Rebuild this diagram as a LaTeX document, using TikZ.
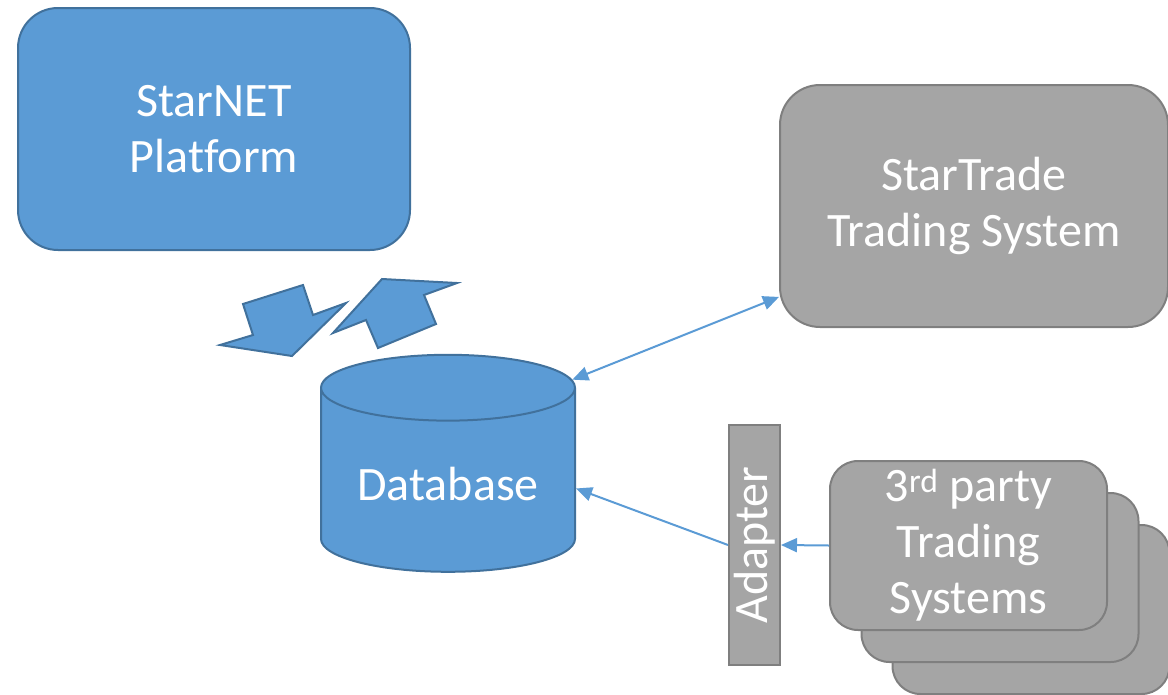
\documentclass[tikz,border=0pt]{standalone}
\usepackage{fontspec}
\setmainfont{Carlito}[Ligatures=CommonOff]
\usetikzlibrary{positioning}
\usetikzlibrary{shapes.geometric}
\usetikzlibrary{arrows.meta}

\definecolor{boxblue}{HTML}{5B9BD5}
\definecolor{blueline}{HTML}{41719C}
\definecolor{boxgray}{HTML}{A5A5A5}
\definecolor{grayline}{HTML}{7F7F7F}

\begin{document}
\begin{tikzpicture}[x=1pt, y=-1pt,
    every node/.style={text=white, font=\fontsize{48}{56}\selectfont, align=center},
    bluebox/.style={draw=blueline, fill=boxblue, line width=2pt, rounded corners=40pt, minimum width=392pt, minimum height=242pt},
    graybox/.style={draw=grayline, fill=boxgray, line width=2pt, rounded corners=40pt, minimum width=388pt, minimum height=242pt},
    stackbox/.style={draw=grayline, fill=boxgray, line width=2pt, rounded corners=28pt, minimum width=277pt, minimum height=169pt},
    adapterbox/.style={draw=grayline, fill=boxgray, line width=2pt, minimum width=240pt, minimum height=51pt, inner sep=0pt},
    dbcyl/.style={cylinder, shape border rotate=90, aspect=0.35, draw=blueline, fill=boxblue, line width=2pt, minimum width=254pt, minimum height=217pt},
    blockarrow/.style={draw=blueline, fill=boxblue, line width=2pt, line join=miter},
    link/.style={draw=boxblue, line width=2pt, -{Triangle[length=16pt, width=14pt]}}]
  \useasboundingbox (0,0) rectangle (1168,694);

  % Nodes
  \node[bluebox] (starnet) at (214,129) {StarNET\\Platform};
  \node[graybox] (startrade) at (974,206) {StarTrade\\Trading System};
  \node[dbcyl] (db) at (448,484) {Database};
  \node[adapterbox, rotate=90] (adapter) at (754.5,545) {Adapter};
  \node[stackbox] (third3) at (1031,609.5) {};
  \node[stackbox] (third2) at (1000,577.5) {};
  \node[stackbox] (third) at (968.5,545.5) {3\textsuperscript{rd} party\\Trading\\Systems};

  % Block arrows
  \draw[blockarrow] (243,304) -- (303,285) -- (313,315) -- (346,303) -- (292,356) -- (220,345) -- (253,335) -- cycle;
  \draw[blockarrow] (382,279) -- (457,283) -- (424,295) -- (436,324) -- (378,348) -- (366,320) -- (333,333) -- cycle;

  % Connectors
  \draw[link, {Triangle[length=16pt, width=14pt]}-{Triangle[length=16pt, width=14pt]}] (db.40) -- (startrade.205);
  \draw[link] (adapter.north) -- (db.-2);
  \draw[link] (third.west) -- (adapter.south);
\end{tikzpicture}
\end{document}
